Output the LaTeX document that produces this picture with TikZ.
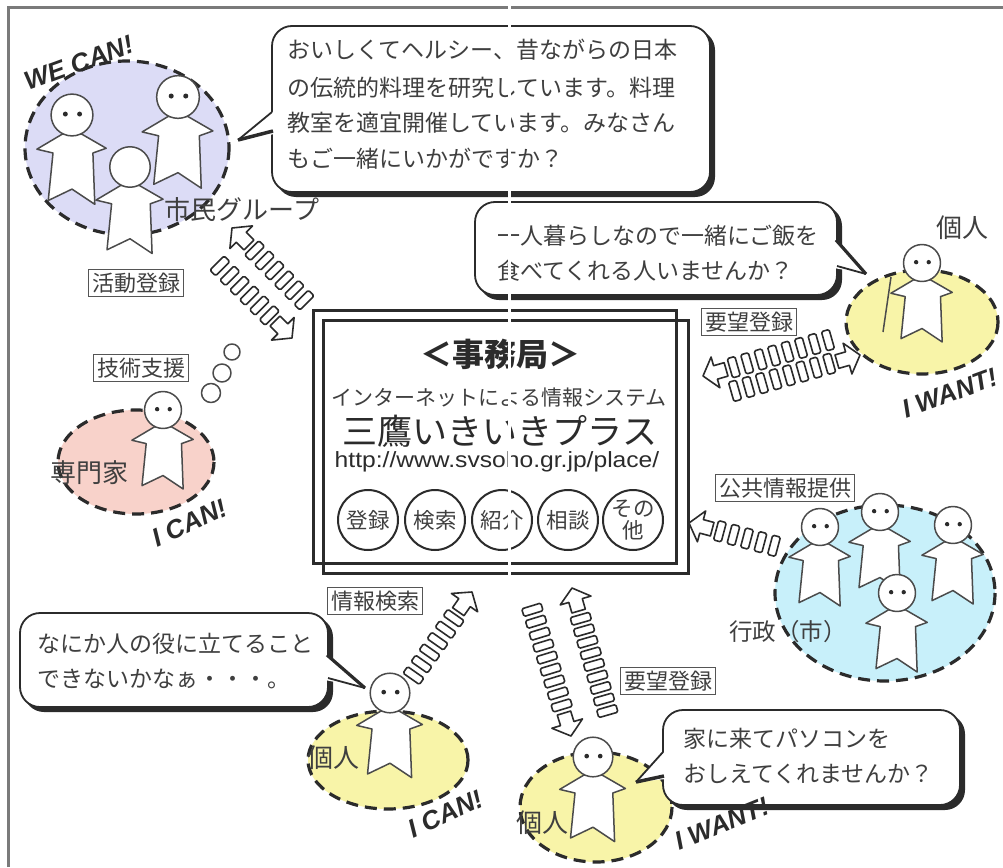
\documentclass[tikz,border=0pt]{standalone}
\usepackage{fontspec}
\setmainfont{Noto Sans CJK JP}
\newfontfamily\latf{Liberation Sans}
\definecolor{ink}{HTML}{2B2B2B}
\definecolor{txt}{HTML}{3F3F3F}
\definecolor{framec}{HTML}{7A7A7A}
\definecolor{lav}{HTML}{DCDCF6}
\definecolor{peach}{HTML}{F8D2CA}
\definecolor{lemon}{HTML}{F8F4A8}
\definecolor{sky}{HTML}{C8F0FA}

\newcommand{\jfont}[1]{\fontsize{#1}{#1}\selectfont}

\tikzset{
  zone/.style={draw=ink, line width=3.2pt, dash pattern=on 12pt off 7pt},
  figline/.style={draw=ink!85, line width=1.5pt, line join=round},
  arrline/.style={draw=ink, line width=1.6pt, line join=round, fill=white},
  bubline/.style={draw=ink, line width=1.8pt},
  bubtext/.style={anchor=base west, inner sep=0, text=txt, font=\jfont{23}},
  tag/.style={draw=ink!80, line width=1.4pt, inner sep=3.5pt, text=txt, font=\jfont{22}},
  who/.style={inner sep=0, text=txt, font=\jfont{26}},
  shout/.style={inner sep=0, text=ink, font=\latf\bfseries\itshape\fontsize{26}{26}\selectfont},
  dial/.style={circle, draw=ink, line width=2pt, minimum size=60pt, inner sep=0, text=txt, font=\jfont{21.5}, align=center},
}

% a little person: head centre x, y, scale, eyes (1) or none (0)
\newcommand{\dude}[4]{%
  \begin{scope}[shift={(#1,#2)}, scale=#3]
    \draw[figline, fill=white] (-10,20) -- (-37,36) -- (-20,40) -- (-25,90) -- (0,78)
      -- (24,94) -- (22,40) -- (36,35) -- (10,20) -- cycle;
    \draw[figline, fill=white] (0,0) circle (22);
    \ifnum#4=1 \fill[ink] (-7,-1) circle (2.6) (8,-1) circle (2.6);\fi
  \end{scope}}

% hollow arrow head followed by a trail of small boxes:
% tip x, tip y, direction, number of boxes, box spacing
\newcommand{\chain}[5]{%
  \begin{scope}[shift={(#1,#2)}, rotate=#3]
    \draw[arrline] (0,0) -- (-13,-16) -- (-13,-7) -- (-24,-7) -- (-24,7) -- (-13,7) -- (-13,16) -- cycle;
    \foreach \k [evaluate=\k as \cx using -36-#5*(\k-1)] in {1,...,#4}
      \draw[arrline, rounded corners=1.5pt] (\cx,-10) rectangle ++(8,20);
  \end{scope}}

\begin{document}
\begin{tikzpicture}[x=1pt, y=-1pt]
\useasboundingbox (0,0) rectangle (1003,867);
\fill[white] (0,0) rectangle (1003,867);
\draw[framec, line width=3pt] (8,867) -- (8,8) -- (1003,8);

% ---- groups ----
\draw[zone, fill=lav] (127,148) ellipse [x radius=102, y radius=87];
\draw[zone, fill=peach] (136,462) ellipse [x radius=78, y radius=52];
\draw[zone, fill=lemon] (922,322) ellipse [x radius=76, y radius=52];
\draw[zone, fill=lemon] (388,760) ellipse [x radius=80, y radius=49];
\draw[zone, fill=lemon] (596,807) ellipse [x radius=76, y radius=55];
\draw[zone, fill=sky] (885,593) ellipse [x radius=110, y radius=88];

% citizens' group
\dude{178}{97}{0.97}{1}
\dude{72}{115}{0.95}{1}
\dude{130}{167}{0.92}{0}
% expert
\dude{163}{410}{0.84}{1}
% individuals
\dude{922}{263}{0.84}{1}
\draw[figline] (891,277) -- (883,332);
\dude{390}{693}{0.9}{1}
\dude{593}{757}{0.9}{1}
% city office
\dude{880}{512}{0.84}{1}
\dude{820}{527}{0.84}{1}
\dude{953}{525}{0.84}{1}
\dude{897}{593}{0.84}{1}

% thought circles
\draw[figline, fill=white] (232,352) circle (8);
\draw[figline, fill=white] (222,373) circle (9);
\draw[figline, fill=white] (211,393) circle (9.5);

% ---- speech bubbles ----
% top
\fill[ink, rounded corners=20pt] (276,30) rectangle (715,197);
\draw[bubline, fill=white, rounded corners=20pt] (272,26) rectangle (710,192);
\fill[white] (275,110) -- (238,140) -- (275,134) -- cycle;
\draw[bubline] (272,112) -- (238,140);
\draw[ink, line width=3.5pt] (238,140) -- (273,131);
\node[bubtext] (t11) at (287,59) {おいしくてヘルシー、昔ながらの日本};
\node[bubtext] (t12) at (287,96) {の伝統的料理を研究しています。料理};
\node[bubtext] (t13) at (287,131) {教室を適宜開催しています。みなさん};
\node[bubtext] (t14) at (287,167) {もご一緒にいかがですか？};

% right
\fill[ink, rounded corners=20pt] (479,206) rectangle (842,300);
\draw[bubline, fill=white, rounded corners=20pt] (475,202) rectangle (837,295);
\fill[white] (834,238) -- (866,274) -- (834,268) -- cycle;
\draw[ink, line width=3.2pt] (836,240) -- (866,274);
\draw[bubline] (866,274) -- (837,266);
\node[bubtext] (t21) at (497,244) {一人暮らしなので一緒にご飯を};
\node[bubtext] (t22) at (497,279) {食べてくれる人いませんか？};

% bottom left
\fill[ink, rounded corners=20pt] (24,617) rectangle (333,712);
\draw[bubline, fill=white, rounded corners=20pt] (20,613) rectangle (328,707);
\fill[white] (325,653) -- (365,688) -- (325,680) -- cycle;
\draw[ink, line width=3.2pt] (327,655) -- (365,688);
\draw[bubline] (365,688) -- (328,678);
\node[bubtext] (t31) at (37,652) {なにか人の役に立てること};
\node[bubtext] (t32) at (37,687) {できないかなぁ・・・。};

% bottom right
\fill[ink, rounded corners=20pt] (667,714) rectangle (965,810);
\draw[bubline, fill=white, rounded corners=20pt] (663,710) rectangle (960,805);
\fill[white] (666,750) -- (636,782) -- (666,779) -- cycle;
\draw[bubline] (663,752) -- (636,782);
\draw[ink, line width=3.5pt] (636,782) -- (664,776);
\node[bubtext] (t41) at (683,747) {家に来てパソコンを};
\node[bubtext] (t42) at (683,782) {おしえてくれませんか？};

% ---- secretariat ----
\draw[ink, line width=3pt] (313,310) rectangle (676,563);
\draw[ink, line width=3pt] (323,320) rectangle (688,573);
\node[inner sep=0, text=ink, font=\jfont{32}\bfseries] (office) at (500,354) {＜事務局＞};
\node[inner sep=0, text=txt, font=\jfont{21}] (sys) at (499,398) {インターネットによる情報システム};
\node[inner sep=0, text=ink, font=\jfont{35}] (plus) at (500,431) {三鷹いきいきプラス};
\node[inner sep=0, text=ink, font=\latf\fontsize{22}{22}\selectfont] (url) at (497,462)
  {\scalebox{1.12}[1]{http://www.svsoho.gr.jp/place/}};
\node[dial] (reg) at (368,520) {登録};
\node[dial] (find) at (435,520) {検索};
\node[dial] (intro) at (502,520) {紹介};
\node[dial] (talk) at (568,520) {相談};
\node[dial] (misc) at (633,520) {その\\他};

% ---- labels ----
\node[tag] (lblact) at (136,283) {活動登録};
\node[tag] (lbltech) at (141,368) {技術支援};
\node[tag] (lblreq1) at (749,322) {要望登録};
\node[tag] (lblpub) at (785,488) {公共情報提供};
\node[tag] (lblsrch) at (375,601) {情報検索};
\node[tag] (lblreq2) at (668,681) {要望登録};

\node[who] (nmgrp) at (242,210) {市民グループ};
\node[who] (nmpro) at (89,473) {専門家};
\node[who] (nmone) at (962,228) {個人};
\node[who] (nmtwo) at (333,758) {個人};
\node[who] (nmthree) at (542,823) {個人};
\node[who, font=\jfont{23.5}] (nmcity) at (788,632) {行政（市）};

\node[shout, rotate=20] (sh1) at (79,63) {WE CAN!};
\node[shout, rotate=25] (sh2) at (190,523) {I CAN!};
\node[shout, rotate=25] (sh3) at (446,814) {I CAN!};
\node[shout, rotate=20] (sh4) at (950,393) {I WANT!};
\node[shout, rotate=22] (sh5) at (722,824) {I WANT!};

% ---- flows ----
\chain{232}{228}{135}{6}{14}
\chain{292}{338}{-45}{6}{14}
\chain{703}{376}{196}{8}{14}
\chain{860}{355}{16}{8}{14}
\chain{689}{523}{165}{5}{14}
\chain{472}{592}{55}{6}{14}
\chain{572}{588}{106}{9}{12}
\chain{571}{736}{-73}{9}{12.5}

% fold line of the sheet
\draw[white, line width=3pt] (509,0) -- (509,867);
\end{tikzpicture}
\end{document}
